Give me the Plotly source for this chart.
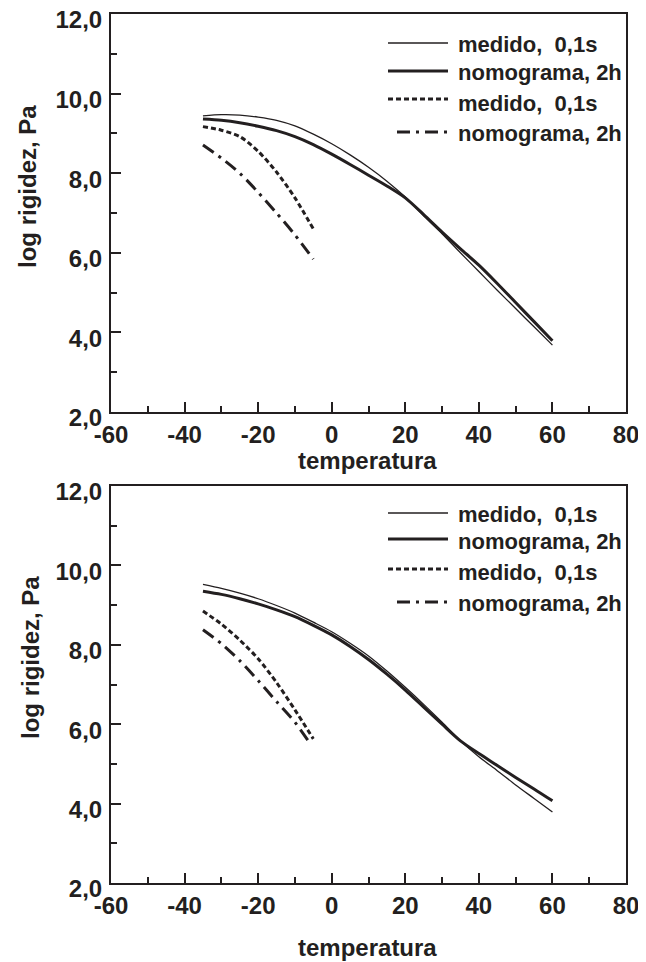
import plotly.graph_objects as go

# ---------------- data ----------------
temp_solid = [-35, -30, -25, -20, -15, -10, -5, 0, 5, 10, 15, 20, 25, 30, 35, 40, 45, 50, 55, 60]
top_medido = [9.44, 9.47, 9.46, 9.41, 9.33, 9.19, 8.98, 8.74, 8.46, 8.15, 7.80, 7.40, 6.93,
              6.48, 6.00, 5.53, 5.06, 4.60, 4.14, 3.68]
top_nomograma = [9.36, 9.33, 9.27, 9.18, 9.07, 8.92, 8.72, 8.48, 8.22, 7.95, 7.68, 7.38, 6.96,
                 6.52, 6.10, 5.69, 5.23, 4.75, 4.27, 3.79]

temp_low_top = [-35, -30, -25, -20, -15, -10, -5]
top_medido_low = [9.17, 9.08, 8.92, 8.55, 8.03, 7.38, 6.60]
top_nomograma_low = [8.71, 8.38, 8.00, 7.52, 7.00, 6.45, 5.84]

bot_medido = [9.52, 9.42, 9.30, 9.16, 8.99, 8.80, 8.57, 8.33, 8.04, 7.72, 7.34, 6.93, 6.50,
              6.05, 5.58, 5.18, 4.83, 4.47, 4.13, 3.79]
bot_nomograma = [9.35, 9.27, 9.16, 9.03, 8.88, 8.71, 8.49, 8.25, 7.96, 7.63, 7.26, 6.86, 6.43,
                 6.00, 5.58, 5.26, 4.96, 4.66, 4.37, 4.07]

temp_low_bot_dash = [-35, -30, -25, -20, -15, -10, -5]
bot_medido_low = [8.85, 8.52, 8.12, 7.65, 7.05, 6.36, 5.63]
temp_low_bot_dashdot = [-35, -30, -25, -20, -15, -10, -6]
bot_nomograma_low = [8.38, 8.03, 7.60, 7.10, 6.57, 6.05, 5.53]

legend_labels = ["medido,  0,1s", "nomograma, 2h", "medido,  0,1s", "nomograma, 2h"]
x_tick_vals = [-60, -40, -20, 0, 20, 40, 60, 80]
x_tick_labels = ["-60", "-40", "-20", "0", "20", "40", "60", "80"]
y_tick_vals = [2, 4, 6, 8, 10, 12]
y_tick_labels = ["2,0", "4,0", "6,0", "8,0", "10,0", "12,0"]
x_title = "temperatura"
y_title = "log rigidez, Pa"

# ---------------- style ----------------
OFF = 8  # page body margin of the html page
W, H = 646 - OFF, 962 - OFF
INK = "#231f20"
FONT = "Liberation Sans Narrow, Arial Narrow, Liberation Sans, Arial, sans-serif"

def px(x):
    return (x - OFF) / W

def py(y):
    return 1 - (y - OFF) / H

styles = [
    dict(width=1.3, dash="solid"),
    dict(width=3.0, dash="solid"),
    dict(width=3.0, dash="5px,3px"),
    dict(width=3.0, dash="13px,6px,3px,6px"),
]

fig = go.Figure()

panels = [
    dict(xa="x", ya="y",
         series=[(temp_solid, top_medido), (temp_solid, top_nomograma),
                 (temp_low_top, top_medido_low), (temp_low_top, top_nomograma_low)],
         ytitle_y=187, ytitle_x=27, xtitle_y=460,
         leg_lines=[43, 71, 99, 132], leg_text=[45, 72, 103, 133]),
    dict(xa="x2", ya="y2",
         series=[(temp_solid, bot_medido), (temp_solid, bot_nomograma),
                 (temp_low_bot_dash, bot_medido_low), (temp_low_bot_dashdot, bot_nomograma_low)],
         ytitle_y=658, ytitle_x=30, xtitle_y=947,
         leg_lines=[513, 539, 569, 602], leg_text=[514, 541, 572, 603]),
]

for p in panels:
    for (xs, ys), st, name in zip(p["series"], styles, legend_labels):
        fig.add_trace(go.Scatter(
            x=xs, y=ys, mode="lines", name=name, showlegend=False,
            line=dict(color=INK, width=st["width"], dash=st["dash"], shape="spline", smoothing=0.8),
            xaxis=p["xa"], yaxis=p["ya"]))

    # manual legend (samples + labels)
    for i, (st, name) in enumerate(zip(styles, legend_labels)):
        x0 = 388 if i < 3 else 397
        fig.add_shape(type="line", xref="paper", yref="paper",
                      x0=px(x0), x1=px(448), y0=py(p["leg_lines"][i]), y1=py(p["leg_lines"][i]),
                      line=dict(color=INK, width=st["width"] if i != 0 else 1.5, dash=st["dash"]))
        fig.add_annotation(xref="paper", yref="paper", x=px(456), y=py(p["leg_text"][i]),
                           text=name, showarrow=False, xanchor="left", yanchor="middle",
                           font=dict(family=FONT, size=22, color=INK, weight="bold"))

    # axis titles
    fig.add_annotation(xref="paper", yref="paper", x=px(368), y=py(p["xtitle_y"]),
                       text=x_title, showarrow=False, xanchor="center", yanchor="middle",
                       font=dict(family=FONT, size=24, color=INK, weight="bold"))
    fig.add_annotation(xref="paper", yref="paper", x=px(p["ytitle_x"]), y=py(p["ytitle_y"]),
                       text=y_title, showarrow=False, textangle=-90, xanchor="center", yanchor="middle",
                       font=dict(family=FONT, size=24, color=INK, weight="bold"))

axis_common = dict(showline=True, linecolor=INK, linewidth=2, mirror=True, automargin=False,
                   showgrid=False, zeroline=False, ticks="inside", ticklen=10, tickwidth=2,
                   tickcolor=INK, tickfont=dict(family=FONT, size=24, color=INK, weight="bold"),
                   tickmode="array", ticklabeloverflow="allow")

xd = [px(111), px(626)]
x_minor = dict(ticks="inside", ticklen=6, tickwidth=2, tickcolor=INK, tickmode="linear", tick0=-50, dtick=20)
y_minor = dict(ticks="inside", ticklen=6, tickwidth=2, tickcolor=INK, tickmode="linear", tick0=3, dtick=2)
fig.update_layout(
    width=W, height=H, margin=dict(l=0, r=0, t=0, b=0, autoexpand=False),
    paper_bgcolor="white", plot_bgcolor="white", showlegend=False,
    xaxis=dict(domain=xd, range=[-60, 80], tickvals=x_tick_vals, ticktext=x_tick_labels,
               anchor="y", minor=x_minor, ticklabelstandoff=0, **axis_common),
    yaxis=dict(domain=[py(412), py(14)], range=[2, 12], tickvals=y_tick_vals, ticktext=y_tick_labels,
               anchor="x", minor=y_minor, ticklabelstandoff=2, ticklabelshift=6, **axis_common),
    xaxis2=dict(domain=xd, range=[-60, 80], tickvals=x_tick_vals, ticktext=x_tick_labels,
                anchor="y2", minor=x_minor, ticklabelstandoff=0, **axis_common),
    yaxis2=dict(domain=[py(883), py(486)], range=[2, 12], tickvals=y_tick_vals, ticktext=y_tick_labels,
                anchor="x2", minor=y_minor, ticklabelstandoff=2, ticklabelshift=6, **axis_common),
)

fig.write_html("out.html")
